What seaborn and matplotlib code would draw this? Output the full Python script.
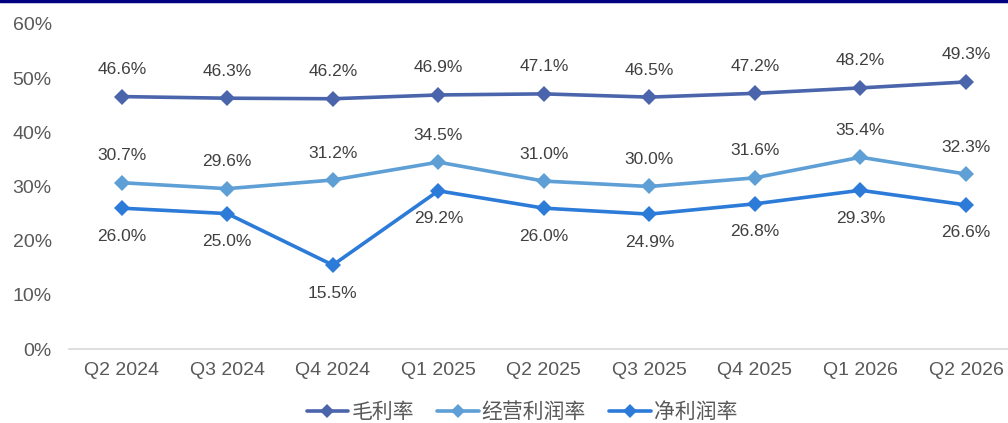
import matplotlib
matplotlib.use("Agg")
import matplotlib.pyplot as plt
from matplotlib.lines import Line2D
import pandas as pd
import seaborn as sns

quarters = ["Q2 2024", "Q3 2024", "Q4 2024", "Q1 2025", "Q2 2025",
            "Q3 2025", "Q4 2025", "Q1 2026", "Q2 2026"]
gross_margin = [46.6, 46.3, 46.2, 46.9, 47.1, 46.5, 47.2, 48.2, 49.3]
operating_margin = [30.7, 29.6, 31.2, 34.5, 31.0, 30.0, 31.6, 35.4, 32.3]
net_margin = [26.0, 25.0, 15.5, 29.2, 26.0, 24.9, 26.8, 29.3, 26.6]
series_names = ["毛利率", "经营利润率", "净利润率"]

colors = {"毛利率": "#4A65AC", "经营利润率": "#5E9FD6", "净利润率": "#2D7BD8"}
label_offsets = {"毛利率": 27, "经营利润率": 27, "净利润率": -28}

rows = []
for name, vals in zip(series_names, [gross_margin, operating_margin, net_margin]):
    for i, (q, v) in enumerate(zip(quarters, vals)):
        rows.append({"quarter": q, "x": i, "value": v / 100, "series": name})
df = pd.DataFrame(rows)

sns.set_style("white")
plt.rcParams["font.family"] = ["Liberation Sans", "Noto Sans CJK SC", "DejaVu Sans"]

fig = plt.figure(figsize=(10.08, 4.23), dpi=100)
ax = fig.add_axes([69 / 1008, 74 / 423, 1 - 69 / 1008, (349 - 24) / 423])

sns.lineplot(data=df, x="x", y="value", hue="series", hue_order=series_names,
             palette=colors, marker="D", markersize=8, linewidth=2.6,
             markeredgewidth=0, ax=ax, legend=False)

# data labels: above for gross/operating, below for net
for name in series_names:
    sub = df[df["series"] == name]
    for _, r in sub.iterrows():
        ax.annotate(f"{r['value'] * 100:.1f}%", (r["x"], r["value"]),
                    xytext=(0, label_offsets[name]), textcoords="offset pixels",
                    ha="center", va="center", fontsize=12.5, color="#404040")

ax.set_xlim(-0.5, (1008 - 122) / 105.5)
ax.set_ylim(0, 0.6)
ax.set_xticks(range(len(quarters)))
ax.set_xticklabels(quarters)
ax.set_yticks([0, 0.1, 0.2, 0.3, 0.4, 0.5, 0.6])
ax.set_yticklabels([f"{int(round(t * 100))}%" for t in ax.get_yticks()])
ax.tick_params(axis="both", length=0, labelsize=14, labelcolor="#595959")
ax.tick_params(axis="x", pad=9)
ax.tick_params(axis="y", pad=12.5)
ax.set_xlabel("")
ax.set_ylabel("")
for s in ["top", "right", "left"]:
    ax.spines[s].set_visible(False)
ax.spines["bottom"].set_color("#D9D9D9")
ax.spines["bottom"].set_linewidth(1.2)

handles = [Line2D([0], [0], color=colors[n], marker="D", markersize=7,
                  linewidth=2.6, markeredgewidth=0) for n in series_names]
fig.legend(handles, series_names, loc="center", bbox_to_anchor=(522 / 1008, 1 - 412 / 423),
           ncol=3, frameon=False, fontsize=15, handlelength=2.0, columnspacing=1.1,
           handletextpad=0.15, labelcolor="#595959")

fig.add_artist(Line2D([0, 1], [1 - 1 / 423, 1 - 1 / 423], color="#000080",
                      linewidth=2.5, transform=fig.transFigure))

fig.savefig("out.png", dpi=100)
